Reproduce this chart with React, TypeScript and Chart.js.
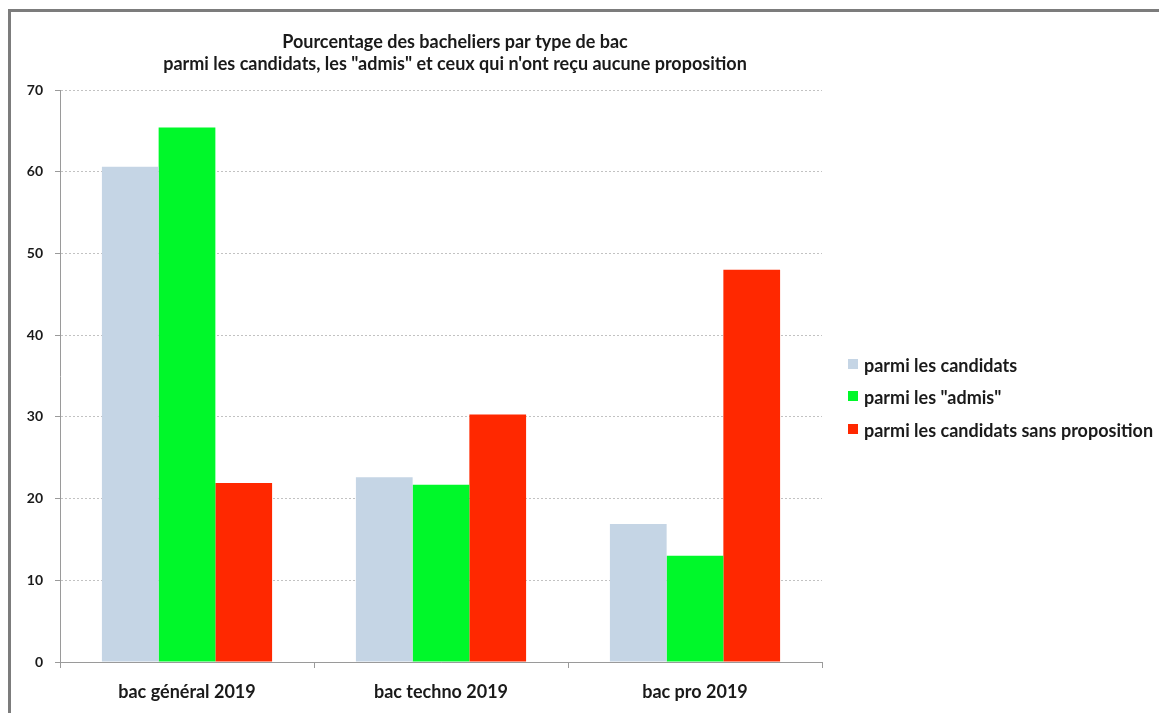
import React, { useEffect, useRef } from "react";
import { Chart, registerables } from "chart.js";

Chart.register(...registerables);

const categories = ["bac général 2019", "bac techno 2019", "bac pro 2019"];
const seriesLabels = [
  "parmi les candidats",
  'parmi les "admis"',
  "parmi les candidats sans proposition",
];
const candidats = [60.6, 22.6, 16.9];
const admis = [65.4, 21.7, 13.0];
const sansProposition = [21.9, 30.3, 48.0];
const seriesColors = ["#c5d5e5", "#00f82a", "#ff2800"];
const titleLines = [
  "Pourcentage des bacheliers par type de bac",
  "parmi les candidats, les \"admis\" et ceux qui n'ont reçu aucune proposition",
];
const yMin = 0;
const yMax = 70;
const yStep = 10;

const FONT = "Lato, 'Open Sans', sans-serif";
const TEXT = "#1a1a1a";

const decorPlugin = {
  id: "decor",
  beforeDraw(chart: any) {
    const ctx = chart.ctx;
    ctx.save();
    ctx.fillStyle = "#ffffff";
    ctx.fillRect(0, 0, chart.width, chart.height);
    ctx.fillStyle = "#7c7c7c";
    ctx.fillRect(8, 9, chart.width - 8, 3);
    ctx.fillRect(8, 9, 3, chart.height - 9);
    ctx.restore();
  },
  afterDraw(chart: any) {
    const ctx = chart.ctx;
    const area = chart.chartArea;
    ctx.save();
    // title
    ctx.fillStyle = TEXT;
    ctx.font = `bold 18px ${FONT}`;
    ctx.textAlign = "center";
    ctx.textBaseline = "middle";
    const cx = (area.left + area.right) / 2 + 14;
    ctx.fillText(titleLines[0], cx, 42);
    ctx.fillText(titleLines[1], cx, 64);
    // legend
    const ys = [365, 397, 430];
    chart.data.datasets.forEach((ds: any, i: number) => {
      ctx.fillStyle = ds.backgroundColor;
      ctx.fillRect(848, ys[i] - 6, 10, 10);
      ctx.fillStyle = TEXT;
      ctx.textAlign = "left";
      ctx.font = `bold 18px ${FONT}`;
      ctx.fillText(ds.label, 864, ys[i] + 1);
    });
    ctx.restore();
  },
};

export default function App() {
  const ref = useRef<HTMLCanvasElement>(null);
  useEffect(() => {
    if (!ref.current) return;
    const chart = new Chart(ref.current, {
      type: "bar",
      data: {
        labels: categories,
        datasets: [
          { label: seriesLabels[0], data: candidats, backgroundColor: seriesColors[0] },
          { label: seriesLabels[1], data: admis, backgroundColor: seriesColors[1] },
          { label: seriesLabels[2], data: sansProposition, backgroundColor: seriesColors[2] },
        ],
      },
      options: {
        responsive: false,
        animation: false,
        devicePixelRatio: 1,
        layout: { padding: { top: 90, right: 337, left: 0, bottom: 0 } },
        datasets: { bar: { categoryPercentage: 0.67, barPercentage: 1.0, borderWidth: 0 } },
        plugins: {
          legend: { display: false },
          title: { display: false },
          tooltip: { enabled: false },
        },
        scales: {
          x: {
            grid: {
              display: true,
              drawOnChartArea: false,
              drawTicks: true,
              tickLength: 6,
              tickColor: "#9a9a9a",
              offset: true,
            },
            border: { display: true, color: "#9a9a9a", width: 1 },
            ticks: {
              color: TEXT,
              font: { family: FONT, size: 18, weight: "bold" },
              padding: 13,
            },
            afterFit(scale: any) {
              scale.height = 51;
            },
          },
          y: {
            min: yMin,
            max: yMax,
            ticks: {
              stepSize: yStep,
              color: TEXT,
              font: { family: FONT, size: 14, weight: "bold" },
              padding: 12,
            },
            grid: {
              color: "#c2c2c2",
              lineWidth: 1,
              tickLength: 5,
              tickColor: "#9a9a9a",
              tickBorderDash: [],
            },
            border: { display: true, color: "#9a9a9a", width: 1, dash: [2, 2] },
            afterFit(scale: any) {
              scale.width = 60;
            },
          },
        },
      },
      plugins: [decorPlugin],
    } as any);
    return () => chart.destroy();
  }, []);
  return (
    <div style={{ position: "fixed", left: 0, top: 0, width: 1159, height: 713 }}>
      <canvas ref={ref} width={1159} height={713} style={{ display: "block" }} />
    </div>
  );
}
